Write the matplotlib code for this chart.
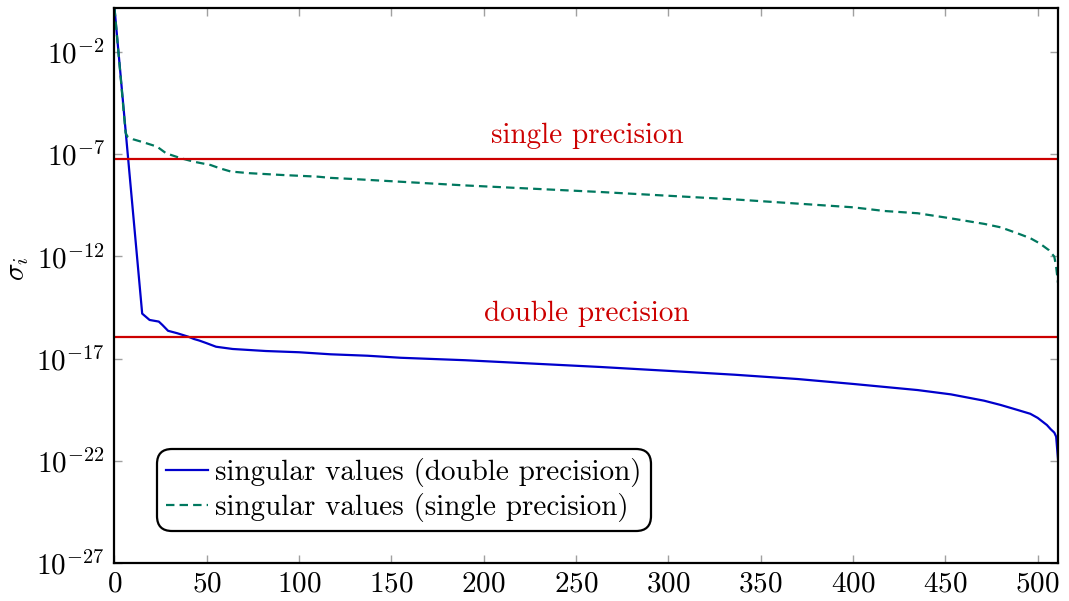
import numpy as np
import matplotlib
matplotlib.use("Agg")
import matplotlib.pyplot as plt
from matplotlib.ticker import FixedLocator, NullLocator, LogFormatterSciNotation

plt.rcParams["font.family"] = ["cmr10", "DejaVu Serif"]
plt.rcParams["mathtext.fontset"] = "cm"
plt.rcParams["axes.formatter.use_mathtext"] = True
plt.rcParams["axes.unicode_minus"] = False

# singular value index / log10(sigma_i), double precision run
idx_double = [0, 15, 19, 24, 26, 29, 34, 40, 43, 46, 50, 55, 64, 82, 100, 117,
              137, 155, 190, 263, 300, 336, 370, 400, 435, 453, 471, 480, 489,
              496, 500, 505, 507, 509, 510, 511]
log_double = [0.15, -14.8, -15.11, -15.19, -15.36, -15.64, -15.76, -15.93, -16.04,
              -16.12, -16.25, -16.42, -16.53, -16.63, -16.69, -16.79, -16.86,
              -16.96, -17.08, -17.41, -17.6, -17.79, -18.0, -18.24, -18.54,
              -18.75, -19.06, -19.27, -19.51, -19.7, -19.9, -20.25, -20.45,
              -20.62, -20.82, -21.9]

# same matrix, single precision run
idx_single = [0, 6, 7, 10, 16, 23, 28, 36, 43, 52, 57, 63, 73, 91, 110, 117, 128,
              190, 263, 337, 400, 417, 435, 453, 471, 480, 489, 496, 501, 506,
              509, 510, 511]
log_single = [0.15, -5.95, -6.14, -6.27, -6.43, -6.63, -6.96, -7.2, -7.37, -7.53,
              -7.69, -7.85, -7.93, -8.02, -8.1, -8.16, -8.21, -8.53, -8.85, -9.22,
              -9.6, -9.78, -9.89, -10.14, -10.41, -10.58, -10.87, -11.11, -11.36,
              -11.69, -12.01, -12.5, -13.3]

eps_single = 5.96e-8
eps_double = 1.11e-16

x_ticks = [0, 50, 100, 150, 200, 250, 300, 350, 400, 450, 500]
y_ticks = [1e-27, 1e-22, 1e-17, 1e-12, 1e-7, 1e-2]

blue = "#0000cc"
green = "#00785f"
red = "#cc0000"
fs = 21

fig = plt.figure(figsize=(10.69, 6.01), dpi=100)
ax = fig.add_axes([0.1071, 0.0632, 0.8826, 0.9235])

ax.plot(idx_double, 10.0 ** np.array(log_double), color=blue, lw=1.6,
        label="singular values (double precision)")
ax.plot(idx_single, 10.0 ** np.array(log_single), color=green, lw=1.6,
        linestyle=(0, (3.8, 2.3)), label="singular values (single precision)")

ax.axhline(eps_single, color=red, lw=1.6)
ax.axhline(eps_double, color=red, lw=1.6)
ax.annotate("single precision", (256, eps_single), xytext=(0, 11.5),
            textcoords="offset points", ha="center", va="baseline",
            color=red, fontsize=fs)
ax.annotate("double precision", (256, eps_double), xytext=(0, 11.5),
            textcoords="offset points", ha="center", va="baseline",
            color=red, fontsize=fs)

ax.set_yscale("log")
ax.set_xlim(0, 511)
ax.set_ylim(1e-27, 10 ** 0.15)
ax.xaxis.set_major_locator(FixedLocator(x_ticks))
ax.yaxis.set_major_locator(FixedLocator(y_ticks))
ax.yaxis.set_minor_locator(NullLocator())
ax.yaxis.set_major_formatter(LogFormatterSciNotation())

ax.tick_params(which="both", direction="in", length=6, width=1.0,
               color="#a0a0a0", top=True, right=True, labelsize=fs)
ax.tick_params(axis="x", pad=6)
ax.tick_params(axis="y", pad=7)
for s in ax.spines.values():
    s.set_linewidth(1.6)

ax.set_ylabel(r"$\sigma_i$", fontsize=fs)
ax.yaxis.set_label_coords(-0.088, 0.53)

leg = ax.legend(loc="lower left", bbox_to_anchor=(0.045, 0.058), fontsize=fs,
                handlelength=1.45, handletextpad=0.25, borderpad=0.3,
                labelspacing=0.2, borderaxespad=0.0, fancybox=True,
                framealpha=1.0, edgecolor="black")
leg.get_frame().set_linewidth(1.6)
leg.get_frame().set_boxstyle("round,pad=0.0,rounding_size=0.5")

fig.savefig("out.png", dpi=100)
